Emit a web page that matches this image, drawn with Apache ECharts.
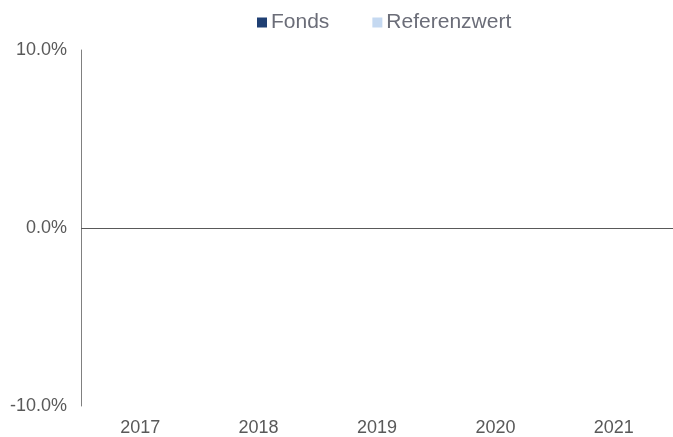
<!DOCTYPE html>
<html>
<head>
<meta charset="utf-8">
<script src="https://cdn.jsdelivr.net/npm/echarts@6/dist/echarts.min.js"></script>
<style>
  html, body { margin: 0; padding: 0; background: #fff; }
  #chart { width: 673px; height: 437px; }
</style>
</head>
<body>
<div id="chart"></div>
<script>
// Jahre und Werte (keine Werte im Bild vorhanden)
const years = ['2017', '2018', '2019', '2020', '2021'];
const fondsValues = [null, null, null, null, null];
const referenzValues = [null, null, null, null, null];
const yTicks = [-0.1, 0, 0.1];

const chart = echarts.init(document.getElementById('chart'), null, {renderer: 'canvas'});

const option = {
  animation: false,
  textStyle: {fontFamily: 'Liberation Sans, Arial, sans-serif'},
  legend: {
    top: 7,
    left: 252,
    itemWidth: 10,
    itemHeight: 10,
    itemGap: 43,
    icon: 'rect',
    textStyle: {fontSize: 21, color: '#6b6d78', padding: [0, 0, 0, -1]},
    data: ['Fonds', 'Referenzwert']
  },
  grid: {left: 81, right: 0, top: 50, bottom: 31},
  xAxis: {
    type: 'category',
    data: years,
    axisLine: {show: false, onZero: false},
    axisTick: {show: false},
    axisLabel: {fontSize: 18, color: '#595959', margin: 13}
  },
  yAxis: {
    type: 'value',
    min: yTicks[0],
    max: yTicks[yTicks.length - 1],
    interval: 0.1,
    axisLine: {show: true, lineStyle: {color: '#808080', width: 1}},
    axisTick: {show: false},
    splitLine: {show: false},
    axisLabel: {
      fontSize: 18,
      color: '#595959',
      margin: 14,
      formatter: v => (v * 100).toFixed(1) + '%'
    }
  },
  series: [
    {
      name: 'Fonds',
      type: 'bar',
      data: fondsValues,
      itemStyle: {color: '#1f3f73'},
      markLine: {
        silent: true,
        symbol: 'none',
        label: {show: false},
        lineStyle: {color: '#595959', width: 1, type: 'solid'},
        data: [{yAxis: 0}]
      }
    },
    {
      name: 'Referenzwert',
      type: 'bar',
      data: referenzValues,
      itemStyle: {color: '#c5d9f1'}
    }
  ]
};

chart.setOption(option);
</script>
</body>
</html>
